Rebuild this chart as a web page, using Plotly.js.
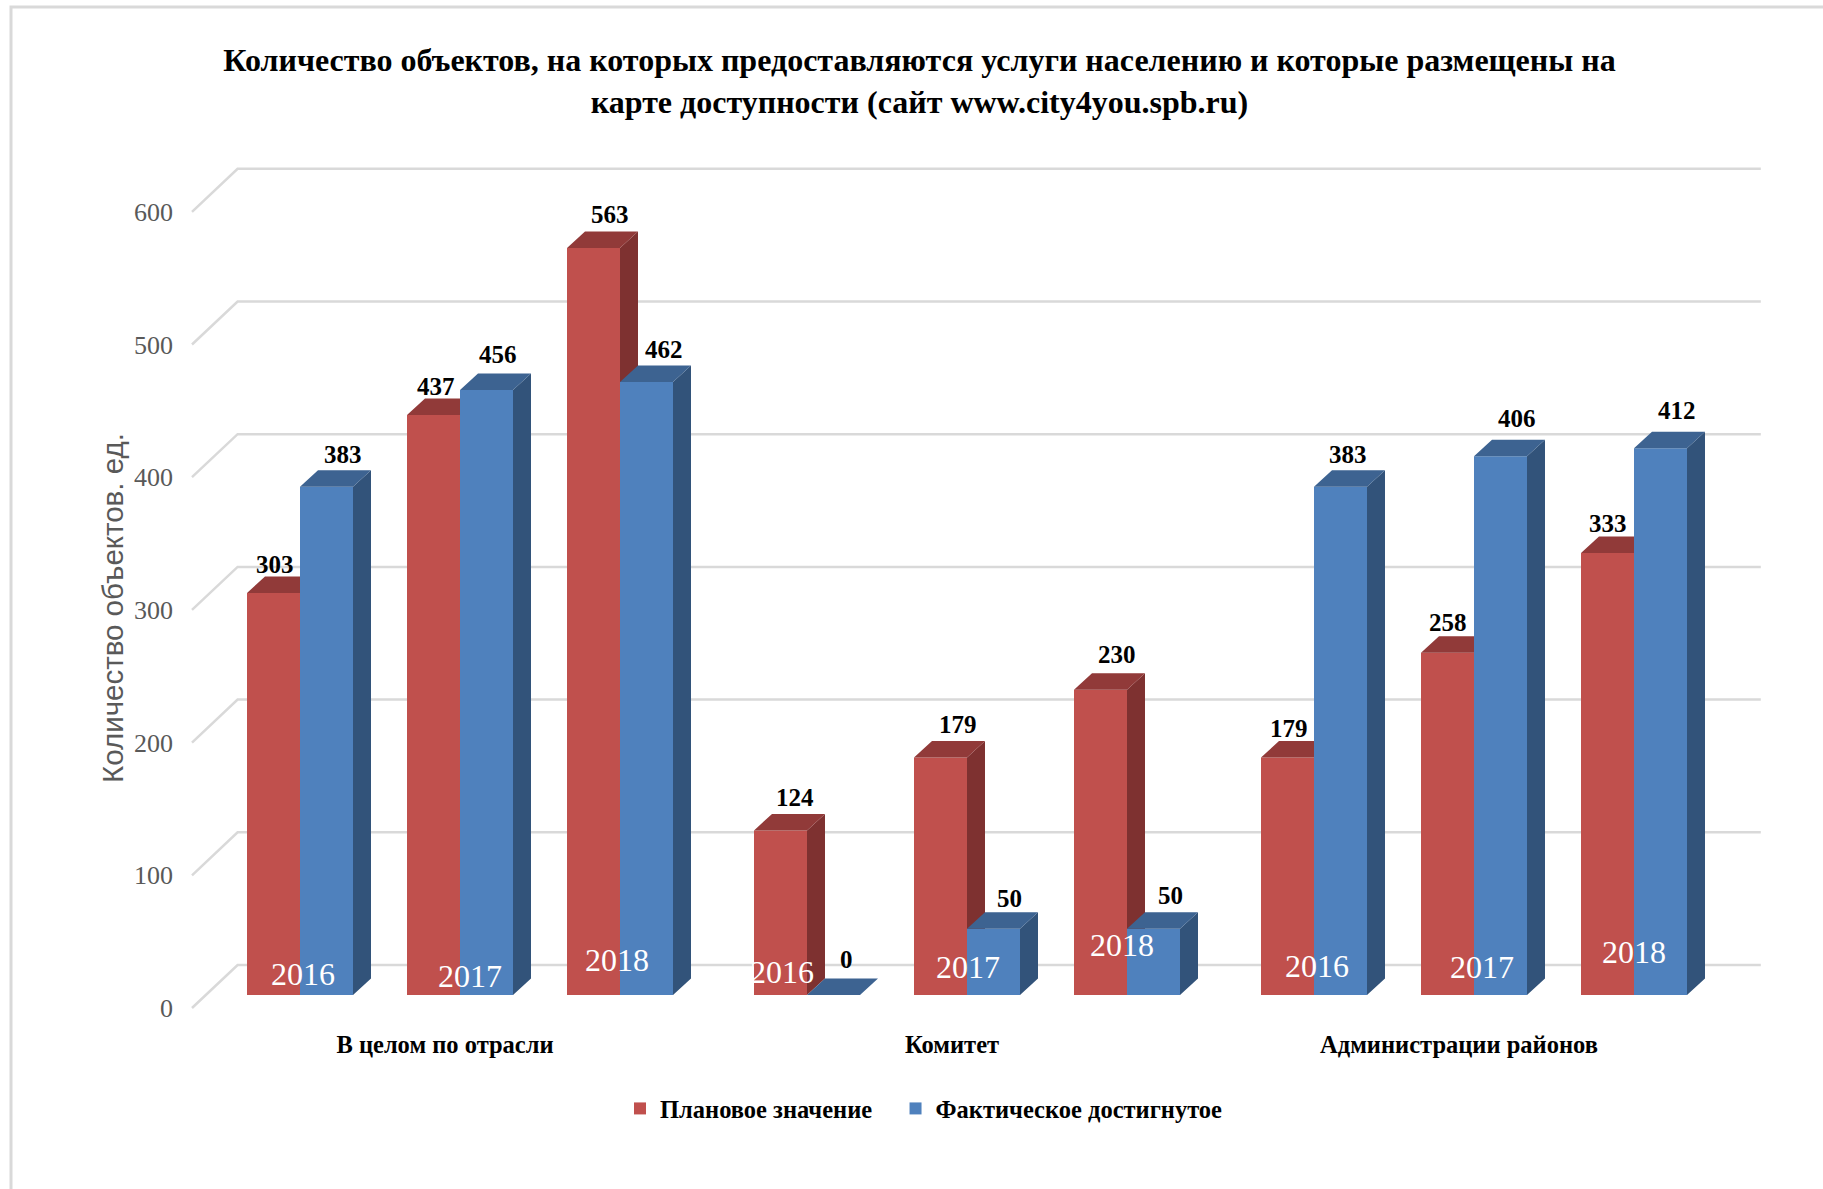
<!DOCTYPE html>
<html>
<head>
<meta charset="utf-8">
<script src="https://cdn.plot.ly/plotly-3.0.1.min.js"></script>
<style>html,body{margin:0;padding:0;background:#fff}#chart{width:1823px;height:1189px}</style>
</head>
<body>
<div id="chart"></div>
<script>
// ---- data ----
const groups = ['В целом по отрасли', 'Комитет', 'Администрации районов'];
const years = ['2016', '2017', '2018'];
const planned = [303, 437, 563, 124, 179, 230, 179, 258, 333];
const actual = [383, 456, 462, 0, 50, 50, 383, 406, 412];
const yTicks = [0, 100, 200, 300, 400, 500, 600];
const seriesNames = ['Плановое значение', 'Фактическое достигнутое'];
const chartTitle = 'Количество объектов, на которых предоставляются услуги населению и которые размещены на<br>карте доступности (сайт www.city4you.spb.ru)';
const yTitle = 'Количество объектов. ед.';

// ---- label nudges in px, [right, up] ----
const plannedLabelNudge = [[1,28],[2,29],[16,33],[14,33],[17,33],[16,35],[1,29],[0,30],[0,30]];
const actualLabelNudge = [[16,32],[11,35],[17,32],[13,36],[16,30],[17,33],[7,32],[16,38],[16,38]];
const yearLabelNudge = [[3,21],[10,19],[-3,35],[-25,23],[1,28],[-5,50],[3,29],[8,28],[0,43]];

// ---- geometry ----
const W = 1823, H = 1189;
const L = 174, R = 1780, T = 130, B = 1020;
const px0 = 300, pxPerCat = 160, py0 = 995, pxPerVal = 1.327;
const xRange = [(L - px0) / pxPerCat, (R - px0) / pxPerCat];
const yRange = [(py0 - B) / pxPerVal, (py0 - T) / pxPerVal];
const barW = 53 / pxPerCat, depthX = 18 / pxPerCat, depthY = 16.5 / pxPerVal;
const groupGap = 27 / pxPerCat;
const wallFrontU = -0.675, wallBackU = -0.39, wallEndU = 9.13;
const wallFrontV = -9.8, wallBackV = 22.6;

const positions = [];
groups.forEach((g, gi) => years.forEach((y, yi) => positions.push(gi * 3 + yi + gi * groupGap)));
const xData = positions;

function faces(values, sign) {
  const side = {x: [], y: []}, top = {x: [], y: []};
  values.forEach((v, i) => {
    const x0 = xData[i] + (sign < 0 ? -barW : 0), x1 = x0 + barW;
    side.x.push(x1, x1 + depthX, x1 + depthX, x1, x1, null);
    side.y.push(0, depthY, v + depthY, v, 0, null);
    top.x.push(x0, x0 + depthX, x1 + depthX, x1, x0, null);
    top.y.push(v, v + depthY, v + depthY, v, v, null);
  });
  return {side, top};
}
function faceTrace(f, color, xa, ya) {
  return {type: 'scatter', mode: 'lines', x: f.x, y: f.y, xaxis: xa, yaxis: ya,
    fill: 'toself', fillcolor: color, line: {width: 0, color: color},
    showlegend: false, hoverinfo: 'skip'};
}
const redF = faces(planned, -1), blueF = faces(actual, 1);

const traces = [
  {type: 'bar', name: seriesNames[0] + '\u00a0\u00a0\u00a0', x: xData.map(p => p - barW / 2), y: planned, width: barW,
   marker: {color: '#C0504D', line: {width: 0}}, xaxis: 'x', yaxis: 'y'},
  faceTrace(redF.side, '#7E3130', 'x', 'y'),
  faceTrace(redF.top, '#913A39', 'x', 'y'),
  {type: 'bar', name: seriesNames[1], x: xData.map(p => p + barW / 2), y: actual, width: barW,
   marker: {color: '#4F81BD', line: {width: 0}}, xaxis: 'x2', yaxis: 'y2'},
  faceTrace(blueF.side, '#32537A', 'x2', 'y2'),
  faceTrace(blueF.top, '#3D6391', 'x2', 'y2')
];

const serif = '"Liberation Serif", "Times New Roman", serif';
const labelFont = {family: serif, size: 25, color: '#000', weight: 700};
const annotations = [];
planned.forEach((v, i) => annotations.push({x: xData[i] - barW / 2, y: v, xref: 'x', yref: 'y', text: String(v),
  showarrow: false, xshift: plannedLabelNudge[i][0], yshift: plannedLabelNudge[i][1], font: labelFont}));
actual.forEach((v, i) => annotations.push({x: xData[i] + barW / 2, y: v, xref: 'x', yref: 'y', text: String(v),
  showarrow: false, xshift: actualLabelNudge[i][0], yshift: actualLabelNudge[i][1], font: labelFont}));
xData.forEach((p, i) => annotations.push({x: p, y: 0, xref: 'x', yref: 'y', text: years[i % 3],
  showarrow: false, xshift: yearLabelNudge[i][0], yshift: yearLabelNudge[i][1],
  font: {family: serif, size: 32, color: '#fff'}}));
annotations.push({xref: 'paper', yref: 'paper', x: (112 - L) / (R - L), y: (B - 608) / (B - T),
  text: yTitle, textangle: -90, showarrow: false, xanchor: 'center', yanchor: 'middle',
  font: {family: '"Liberation Sans", Arial, sans-serif', size: 29.5, color: '#595959'}});

const gridShapes = yTicks.map(v => ({
  type: 'path', layer: 'below', xref: 'x', yref: 'y',
  path: `M${wallFrontU},${v + wallFrontV}L${wallBackU},${v + wallBackV}L${wallEndU},${v + wallBackV}`,
  line: {color: '#D9D9D9', width: 2.5}
}));
const frame = {type: 'path', layer: 'below', xref: 'paper', yref: 'paper',
  path: (() => {
    const fx = p => (p - L) / (R - L), fy = p => (B - p) / (B - T);
    return `M${fx(11)},${fy(1189)}L${fx(11)},${fy(7)}L${fx(1823)},${fy(7)}`;
  })(),
  line: {color: '#D9D9D9', width: 3}};

const layout = {
  width: W, height: H, paper_bgcolor: '#fff', plot_bgcolor: 'rgba(0,0,0,0)',
  margin: {l: L, r: W - R, t: T, b: H - B, pad: 0},
  barmode: 'overlay', hovermode: false,
  title: {text: chartTitle, x: 919.5 / W, xanchor: 'center', y: 1 - 71 / H, yanchor: 'top', yref: 'container',
    font: {family: serif, size: 32, color: '#000', weight: 700}},
  xaxis: {range: xRange, tickmode: 'array',
    tickvals: groups.map((g, i) => xData[i * 3 + 1] - 15 / pxPerCat), ticktext: groups,
    showgrid: false, zeroline: false, showline: false, ticks: '', fixedrange: true, ticklabelstandoff: 7,
    tickfont: {family: serif, size: 24.5, color: '#000', weight: 700}},
  yaxis: {range: yRange, tickmode: 'array',
    tickvals: yTicks.map(v => v + wallFrontV), ticktext: yTicks.map(String),
    showgrid: false, zeroline: false, showline: false, ticks: '', fixedrange: true,
    tickfont: {family: serif, size: 26, color: '#595959'}},
  xaxis2: {range: xRange, overlaying: 'x', visible: false, fixedrange: true},
  yaxis2: {range: yRange, overlaying: 'y', visible: false, fixedrange: true},
  legend: {orientation: 'h', x: (620 - L) / (R - L), xanchor: 'left', y: (B - 1086) / (B - T), yanchor: 'top',
    font: {family: serif, size: 24.5, color: '#000', weight: 700}, bgcolor: 'rgba(0,0,0,0)'},
  showlegend: true,
  shapes: [frame].concat(gridShapes),
  annotations: annotations
};
Plotly.newPlot('chart', traces, layout, {displayModeBar: false, staticPlot: true});
</script>
</body>
</html>
